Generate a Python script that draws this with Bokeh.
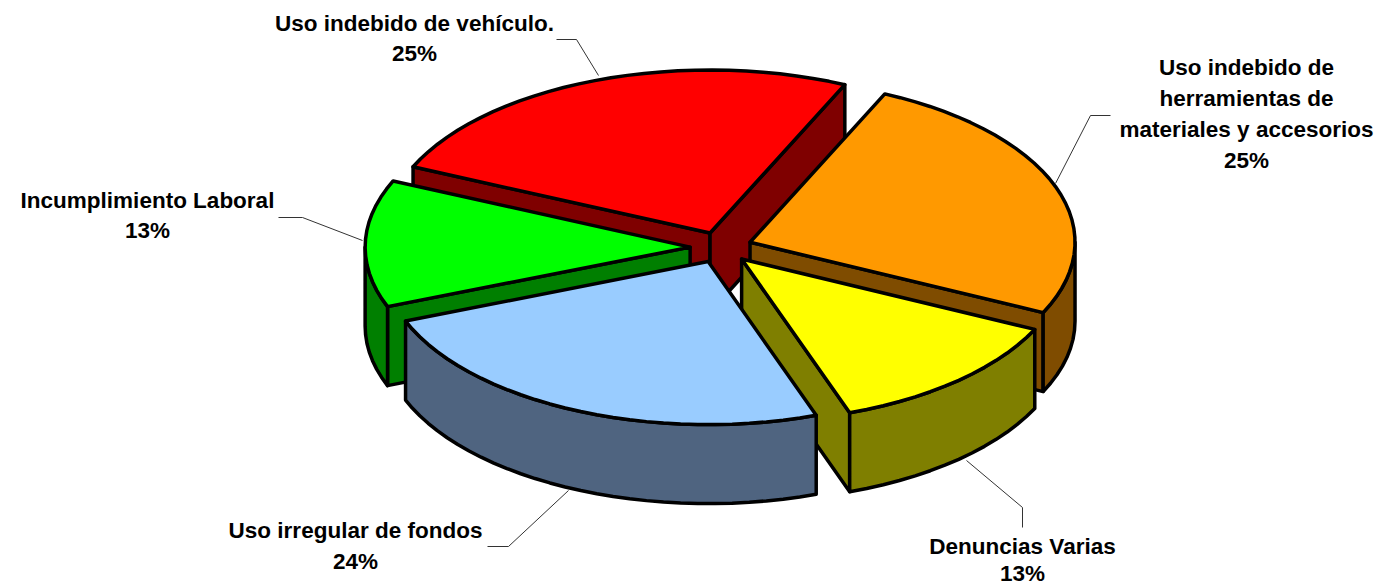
import math
from bokeh.plotting import figure
from bokeh.models import Range1d
from bokeh.core.properties import value
from bokeh.embed import file_html
from bokeh.resources import INLINE

# Data (clockwise, starting at the orange slice)
categories = ["Uso indebido de\nherramientas de\nmateriales y accesorios",
              "Denuncias Varias",
              "Uso irregular de fondos",
              "Incumplimiento Laboral",
              "Uso indebido de vehículo."]
shares = [25.3, 12.5, 24.45, 12.6, 25.15]
percent_labels = ["25%", "13%", "24%", "13%", "25%"]

top_colors = ["#FF9900", "#FFFF00", "#99CCFF", "#00FF00", "#FF0000"]
side_colors = ["#7F4C00", "#7F7F00", "#4F6480", "#007F00", "#7F0000"]

# Layout of the label blocks and leader lines
label_x = [1246, 1022, 355, 147, 414]
label_y = [67, 546, 530, 200, 23]
label_step = [31, 27, 31, 30, 30]
leaders = [[(1055, 183), (1090, 115), (1110, 115)],
           [(966, 460), (1022, 507), (1022, 527)],
           [(568, 490), (508, 546), (487, 546)],
           [(362, 240), (302, 217), (278, 217)],
           [(598, 75), (576, 39), (556, 39)]]

CX, CY, RX, RY, DEPTH, EXPLODE = 720.5, 247, 325, 163, 79, 0.095
START = 24.5
DRAW_ORDER = [4, 0, 3, 1, 2]
FONT_SIZE = "22.5px"

p = figure(width=1382, height=586, x_range=Range1d(0, 1382), y_range=Range1d(586, 0),
           output_backend="svg", toolbar_location=None, min_border=0,
           outline_line_color=None, background_fill_color="white")
p.axis.visible = False
p.grid.visible = False


def arc_points(ax, ay, a0, a1, dz=0):
    n = max(2, int(abs(a1 - a0) / 3))
    out = []
    for i in range(n + 1):
        a = math.radians(a0 + (a1 - a0) * i / n)
        out.append((ax + RX * math.sin(a), ay - RY * math.cos(a) + dz))
    return out


def face(pts, color):
    p.patch([q[0] for q in pts], [q[1] for q in pts], fill_color=color,
            line_color="black", line_width=3.5, line_join="round")


total = sum(shares)
bounds = [START]
for s in shares:
    bounds.append(bounds[-1] + s / total * 360)

for i in DRAW_ORDER:
    a0, a1 = bounds[i], bounds[i + 1]
    mid = math.radians((a0 + a1) / 2)
    ax = CX + EXPLODE * RX * math.sin(mid)
    ay = CY - EXPLODE * RY * math.cos(mid)
    # radial walls that face the viewer
    for edge, visible in ((a0, math.sin(math.radians(a0)) < 0), (a1, math.sin(math.radians(a1)) > 0)):
        if visible:
            e = arc_points(ax, ay, edge, edge)[0]
            face([(ax, ay), e, (e[0], e[1] + DEPTH), (ax, ay + DEPTH)], side_colors[i])
    # outer wall: front half of the rim only
    for shift in (0, 360):
        w0, w1 = max(a0, 90 + shift), min(a1, 270 + shift)
        if w1 > w0:
            face(arc_points(ax, ay, w0, w1) + arc_points(ax, ay, w1, w0, DEPTH), side_colors[i])
    face([(ax, ay)] + arc_points(ax, ay, a0, a1), top_colors[i])

for pts in leaders:
    p.line([q[0] for q in pts], [q[1] for q in pts], line_color="#333333", line_width=1)

for i, cat in enumerate(categories):
    lines = cat.split("\n") + [percent_labels[i]]
    p.text([label_x[i]] * len(lines), [label_y[i] + label_step[i] * k for k in range(len(lines))],
           text=lines, text_font=value("Liberation Sans"), text_font_style="bold",
           text_font_size=FONT_SIZE, text_align="center", text_baseline="middle", text_color="black")

open("out.html", "w").write(file_html(p, INLINE))
